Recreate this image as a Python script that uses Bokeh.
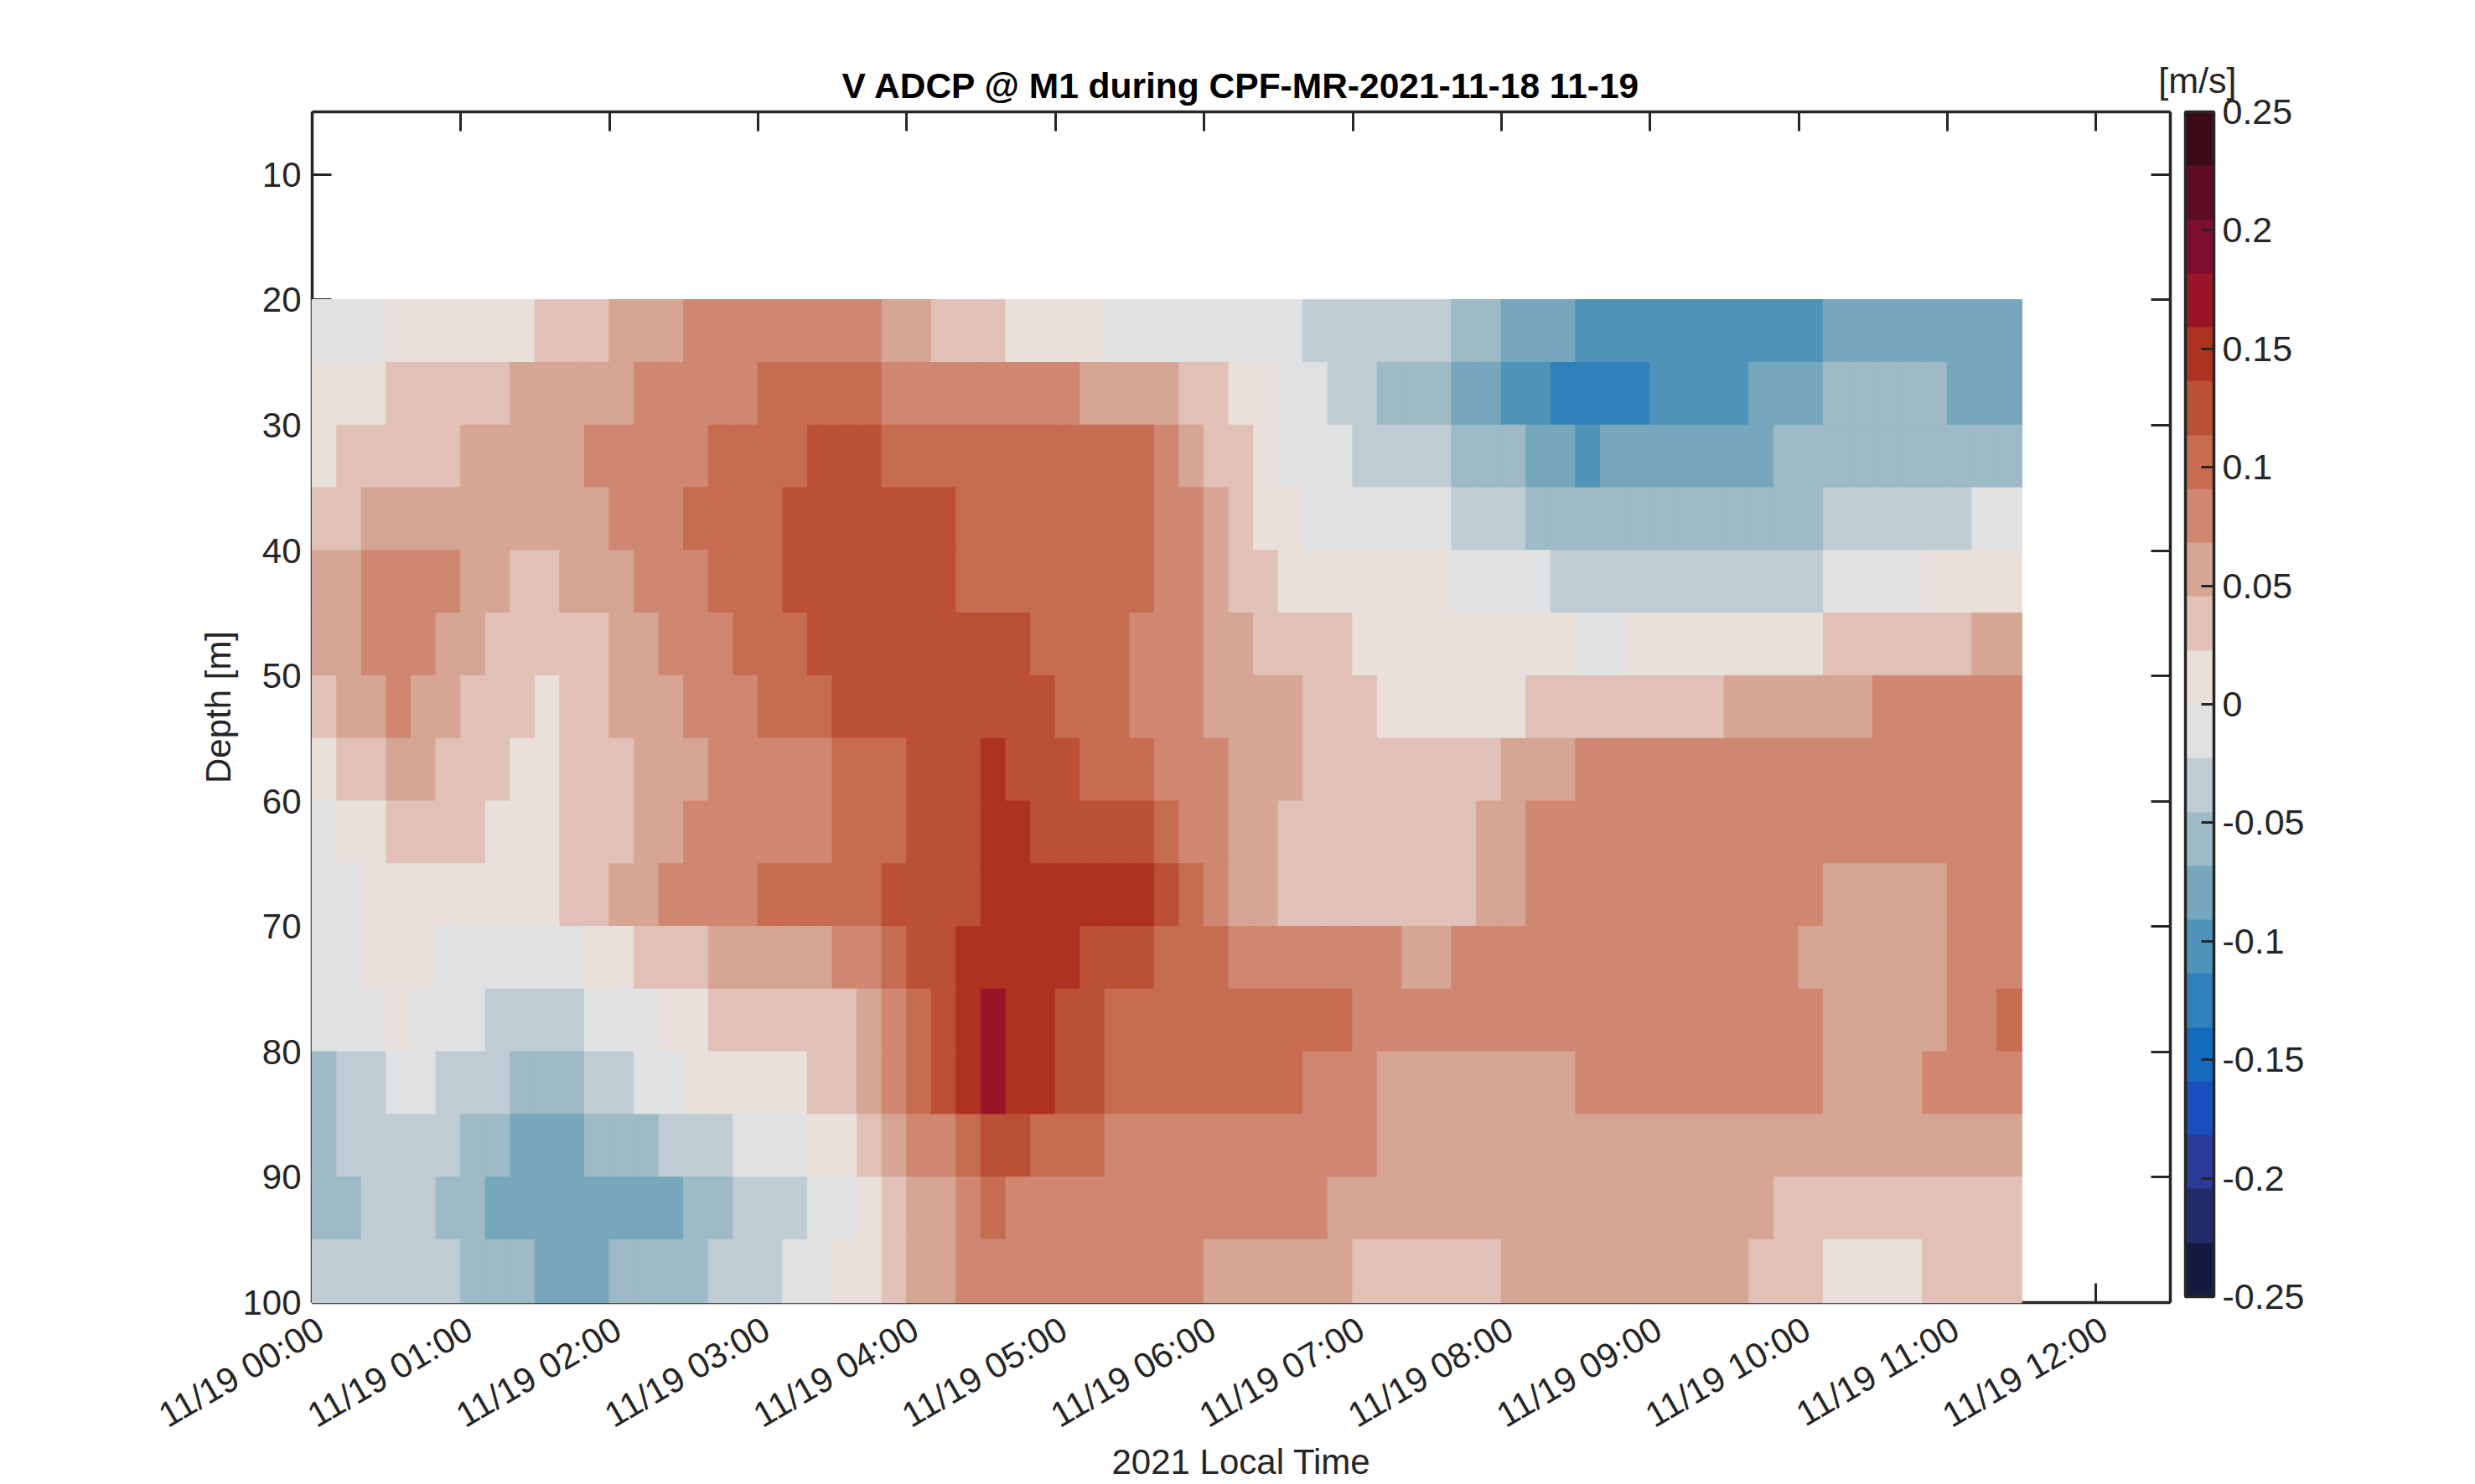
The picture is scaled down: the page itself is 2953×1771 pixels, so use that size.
from math import radians
from bokeh.embed import file_html
from bokeh.resources import INLINE
from bokeh.plotting import figure
from bokeh.models import (ColorBar, ColumnDataSource, FixedTicker, LinearAxis,
                          LinearColorMapper, Range1d, Title)
from bokeh.transform import transform

# Colour band read for each 10-minute cell (0 = first band above zero, -1 = first band below zero)
depth_top = [20, 25, 30, 35, 40, 45, 50, 55, 60, 65, 70, 75, 80, 85, 90, 95]
band_20 = [-1,-1,-1,0,0,0,0,0,0,1,1,1,2,2,2,3,3,3,3,3,3,3,3,2,2,1,1,1,0,0,0,0,-1,-1,-1,-1,-1,-1,-1,-1,-2,-2,-2,-2,-2,-2,-3,-3,-4,-4,-4,-5,-5,-5,-5,-5,-5,-5,-5,-5,-5,-4,-4,-4,-4,-4,-4,-4,-4]
band_25 = [0,0,0,1,1,1,1,1,2,2,2,2,2,3,3,3,3,3,4,4,4,4,4,3,3,3,3,3,3,3,3,2,2,2,2,1,1,0,0,-1,-1,-2,-2,-3,-3,-3,-4,-4,-5,-5,-6,-6,-6,-6,-5,-5,-5,-5,-4,-4,-4,-3,-3,-3,-3,-3,-4,-4,-4]
band_30 = [0,1,1,1,1,1,2,2,2,2,2,3,3,3,3,3,4,4,4,4,5,5,5,4,4,4,4,4,4,4,4,4,4,4,3,2,1,1,0,-1,-1,-1,-2,-2,-2,-2,-3,-3,-3,-4,-4,-5,-4,-4,-4,-4,-4,-4,-4,-3,-3,-3,-3,-3,-3,-3,-3,-3,-3]
band_35 = [1,1,2,2,2,2,2,2,2,2,2,2,3,3,3,4,4,4,4,5,5,5,5,5,5,5,4,4,4,4,4,4,4,4,3,3,2,1,0,0,-1,-1,-1,-1,-1,-1,-2,-2,-2,-3,-3,-3,-3,-3,-3,-3,-3,-3,-3,-3,-3,-2,-2,-2,-2,-2,-2,-1,-1]
band_40 = [2,2,3,3,3,3,2,2,1,1,2,2,2,3,3,3,4,4,4,5,5,5,5,5,5,5,4,4,4,4,4,4,4,4,3,3,2,1,1,0,0,0,0,0,0,0,-1,-1,-1,-1,-2,-2,-2,-2,-2,-2,-2,-2,-2,-2,-2,-1,-1,-1,-1,0,0,0,0]
band_45 = [2,2,3,3,3,2,2,1,1,1,1,1,2,2,3,3,3,4,4,4,5,5,5,5,5,5,5,5,5,4,4,4,4,3,3,3,2,2,1,1,1,1,0,0,0,0,0,0,0,0,0,-1,-1,0,0,0,0,0,0,0,0,1,1,1,1,1,1,2,2]
band_50 = [1,2,2,3,2,2,1,1,1,0,1,1,2,2,2,3,3,3,4,4,4,5,5,5,5,5,5,5,5,5,4,4,4,3,3,3,2,2,2,2,1,1,1,0,0,0,0,0,0,1,1,1,1,1,1,1,1,2,2,2,2,2,2,3,3,3,3,3,3]
band_55 = [0,1,1,2,2,1,1,1,0,0,1,1,1,2,2,2,3,3,3,3,3,4,4,4,5,5,5,6,5,5,5,4,4,4,3,3,3,2,2,2,1,1,1,1,1,1,1,1,2,2,2,3,3,3,3,3,3,3,3,3,3,3,3,3,3,3,3,3,3]
band_60 = [-1,0,0,1,1,1,1,0,0,0,1,1,1,2,2,3,3,3,3,3,3,4,4,4,5,5,5,6,6,5,5,5,5,5,4,3,3,2,2,1,1,1,1,1,1,1,1,2,2,3,3,3,3,3,3,3,3,3,3,3,3,3,3,3,3,3,3,3,3]
band_65 = [-1,-1,0,0,0,0,0,0,0,0,1,1,2,2,3,3,3,3,4,4,4,4,4,5,5,5,5,6,6,6,6,6,6,6,5,4,3,2,2,1,1,1,1,1,1,1,1,2,2,3,3,3,3,3,3,3,3,3,3,3,3,2,2,2,2,2,3,3,3]
band_70 = [-1,-1,0,0,0,-1,-1,-1,-1,-1,-1,0,0,1,1,1,2,2,2,2,2,3,3,4,5,5,6,6,6,6,6,5,5,5,4,4,4,3,3,3,3,3,3,3,2,2,3,3,3,3,3,3,3,3,3,3,3,3,3,3,2,2,2,2,2,2,3,3,3]
band_75 = [-1,-1,-1,0,-1,-1,-1,-2,-2,-2,-2,-1,-1,-1,0,0,1,1,1,1,1,1,2,3,4,5,6,7,6,6,5,5,4,4,4,4,4,4,4,4,4,4,3,3,3,3,3,3,3,3,3,3,3,3,3,3,3,3,3,3,3,2,2,2,2,2,3,3,4]
band_80 = [-3,-2,-2,-1,-1,-2,-2,-2,-3,-3,-3,-2,-2,-1,-1,0,0,0,0,0,1,1,2,3,4,5,6,7,6,6,5,5,4,4,4,4,4,4,4,4,3,3,3,2,2,2,2,2,2,2,2,3,3,3,3,3,3,3,3,3,3,2,2,2,2,3,3,3,3]
band_85 = [-3,-2,-2,-2,-2,-2,-3,-3,-4,-4,-4,-3,-3,-3,-2,-2,-2,-1,-1,-1,0,0,1,2,3,3,4,5,5,4,4,4,3,3,3,3,3,3,3,3,3,3,3,2,2,2,2,2,2,2,2,2,2,2,2,2,2,2,2,2,2,2,2,2,2,2,2,2,2]
band_90 = [-3,-3,-2,-2,-2,-3,-3,-4,-4,-4,-4,-4,-4,-4,-4,-3,-3,-2,-2,-2,-1,-1,0,1,2,2,3,4,3,3,3,3,3,3,3,3,3,3,3,3,3,2,2,2,2,2,2,2,2,2,2,2,2,2,2,2,2,2,2,1,1,1,1,1,1,1,1,1,1]
band_95 = [-2,-2,-2,-2,-2,-2,-3,-3,-3,-4,-4,-4,-3,-3,-3,-3,-2,-2,-2,-1,-1,0,0,1,2,2,3,3,3,3,3,3,3,3,3,3,2,2,2,2,2,2,1,1,1,1,1,1,2,2,2,2,2,2,2,2,2,2,1,1,1,0,0,0,0,1,1,1,1]
band_rows = [band_20, band_25, band_30, band_35, band_40, band_45, band_50, band_55,
             band_60, band_65, band_70, band_75, band_80, band_85, band_90, band_95]

palette = ["#171a40", "#232b6a", "#2a3a96", "#1a50bd", "#1569bd", "#3081b9", "#4f94b8", "#76a7bc",
           "#9dbac6", "#bfccd3", "#e0e1e3", "#e9dfdb", "#e0c0b7", "#d6a593", "#cf8772", "#c66c51",
           "#bb5034", "#ae3221", "#9a1428", "#7d0e2e", "#5e0c23", "#3b0a14"]

hour_ticks = list(range(13))
hour_labels = [f"11/19 {h:02d}:00" for h in hour_ticks]
depth_ticks = [10, 20, 30, 40, 50, 60, 70, 80, 90, 100]
cbar_ticks = [-0.25, -0.2, -0.15, -0.1, -0.05, 0, 0.05, 0.1, 0.15, 0.2, 0.25]
cbar_labels = ["-0.25", "-0.2", "-0.15", "-0.1", "-0.05", "0", "0.05", "0.1", "0.15", "0.2", "0.25"]

INK = "#262626"
FONT = "Liberation Sans"
BAND = 0.5 / len(palette)

left, right, top, bottom, value_col = [], [], [], [], []
for d, row in zip(depth_top, band_rows):
    for i, code in enumerate(row):
        left.append(i / 6)
        right.append((i + 1) / 6)
        top.append(d)
        bottom.append(d + 5)
        value_col.append((code + 0.5) * BAND)
source = ColumnDataSource(dict(left=left, right=right, top=top, bottom=bottom, v=value_col))

mapper = LinearColorMapper(palette=palette, low=-0.25, high=0.25)

p = figure(width=2945, height=1768, output_backend="svg", toolbar_location=None,
           x_range=Range1d(0, 12.5), y_range=Range1d(100, 5),
           x_axis_type=None, y_axis_type=None,
           frame_width=2217, frame_height=1421,
           min_border_left=372, min_border_right=356, min_border_top=133, min_border_bottom=214)
p.grid.visible = False
p.outline_line_color = None
p.background_fill_color = "white"
p.border_fill_color = "white"
# rotated time labels hang about 10 px right of their ticks, as in the reference
p.extra_x_ranges = {"time_labels": Range1d(-0.0564, 12.4436)}

p.quad(left="left", right="right", top="top", bottom="bottom", source=source,
       fill_color=transform("v", mapper), line_color=transform("v", mapper), line_width=1.5,
       level="overlay")


def style(ax):
    ax.axis_line_color = INK
    ax.axis_line_width = 3.5
    ax.major_tick_line_color = INK
    ax.major_tick_line_width = 3
    ax.major_tick_in = 23
    ax.major_tick_out = 0
    ax.minor_tick_line_color = None
    ax.major_label_text_color = INK
    ax.major_label_text_font = FONT
    ax.major_label_text_font_size = "42px"
    ax.axis_label_text_font = FONT
    ax.axis_label_text_font_size = "42px"
    ax.axis_label_text_font_style = "normal"
    ax.axis_label_text_color = INK


x_marks = LinearAxis(ticker=FixedTicker(ticks=hour_ticks), major_label_standoff=0,
                     major_label_overrides={h: "" for h in hour_ticks})
style(x_marks)
p.add_layout(x_marks, "below")

x_bottom = LinearAxis(x_range_name="time_labels", ticker=FixedTicker(ticks=hour_ticks),
                      axis_label="2021 Local Time",
                      major_label_overrides=dict(zip(hour_ticks, hour_labels)),
                      major_label_orientation=radians(30), major_label_standoff=28,
                      axis_label_standoff=-15)
style(x_bottom)
x_bottom.axis_line_color = None
x_bottom.major_tick_line_color = None
p.add_layout(x_bottom, "below")

y_left = LinearAxis(ticker=FixedTicker(ticks=depth_ticks), axis_label="Depth [m]",
                    major_label_standoff=13, axis_label_standoff=2)
style(y_left)
p.add_layout(y_left, "left")

x_top = LinearAxis(ticker=FixedTicker(ticks=hour_ticks), major_label_standoff=0,
                   major_label_overrides={h: "" for h in hour_ticks})
style(x_top)
p.add_layout(x_top, "above")

y_right = LinearAxis(ticker=FixedTicker(ticks=depth_ticks), major_label_standoff=0,
                     major_label_overrides={d: "" for d in depth_ticks})
style(y_right)
p.add_layout(y_right, "right")

p.title.text = "V ADCP @ M1 during CPF-MR-2021-11-18 11-19"
p.title.align = "center"
p.title.text_font = FONT
p.title.text_font_size = "42.5px"
p.title.text_font_style = "bold"
p.title.text_color = "black"
p.title.standoff = -139

p.add_layout(Title(text="[m/s]", align="right", offset=-79, standoff=27, text_font=FONT,
                   text_font_size="43px", text_font_style="normal", text_color=INK), "above")

cbar = ColorBar(color_mapper=mapper, ticker=FixedTicker(ticks=cbar_ticks),
                major_label_overrides=dict(zip(cbar_ticks, cbar_labels)),
                width=34, height=1414, padding=0, margin=0, location=(18, 7),
                bar_line_color=INK, bar_line_width=3.5,
                major_tick_line_color=INK, major_tick_line_width=3,
                major_tick_in=15, minor_tick_line_color=None, label_standoff=10,
                major_label_text_font=FONT, major_label_text_font_size="43px",
                major_label_text_color=INK, background_fill_color=None, border_line_color=None)
p.add_layout(cbar, "right")

open("out.html", "w").write(file_html(p, INLINE))
